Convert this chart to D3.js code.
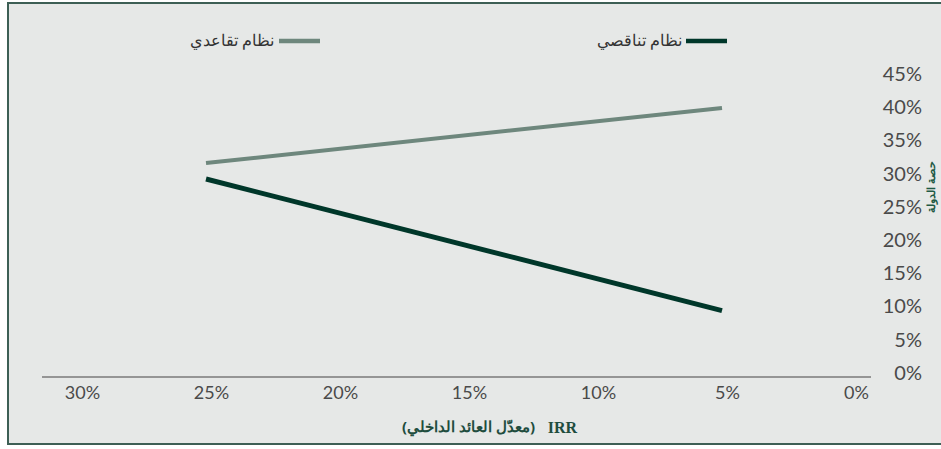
<!DOCTYPE html>
<html><head><meta charset="utf-8">
<script src="https://cdn.jsdelivr.net/npm/d3@7/dist/d3.min.js"></script>
<style>
html,body{margin:0;padding:0;background:#fff;}
svg{display:block;}
</style></head>
<body>
<script>
const xTicks = [30, 25, 20, 15, 10, 5, 0];
const yTicks = [0, 5, 10, 15, 20, 25, 30, 35, 40, 45];
const irr = [25, 5];
const seriesNames = ["نظام تناقصي", "نظام تقاعدي"];
const decreasing = [29.8, 10];
const progressive = [32.2, 40.5];
const xTitleLatin = "IRR";
const xTitleArabic = "(معدّل العائد الداخلي)";
const yTitle = "حصة الدولة";

const W = 941, H = 449;
const svg = d3.select("body").append("svg").attr("width", W).attr("height", H);

svg.append("rect").attr("x", 8).attr("y", 3).attr("width", 940).attr("height", 441)
  .attr("fill", "#e6e8e7").attr("stroke", "#3d5f55").attr("stroke-width", 2);

const x = d3.scaleLinear().domain([30, 0]).range([77, 851]);
const y = d3.scaleLinear().domain([0, 45]).range([377, 78]);

// x axis line
svg.append("line").attr("x1", 42).attr("x2", 871).attr("y1", y(0)).attr("y2", y(0))
  .attr("stroke", "#7a7a7a").attr("stroke-width", 1.5);

const xAxis = d3.axisBottom(x).tickValues(xTicks).tickFormat(d => d + "%").tickSize(0);
const gx = svg.append("g").attr("transform", `translate(0,${y(0)})`).call(xAxis);
gx.select(".domain").remove();
gx.selectAll("text").attr("dx", 5).attr("dy", 0).attr("y", 22)
  .attr("font-family", "Lato, sans-serif").attr("font-size", 18).attr("fill", "#4a4a4a");

const yAxis = d3.axisRight(y).tickValues(yTicks).tickFormat(d => d + "%").tickSize(0);
const gy = svg.append("g").attr("transform", `translate(922,0)`).call(yAxis);
gy.select(".domain").remove();
gy.selectAll("text").attr("x", 0).attr("dy", "0.32em").attr("y", -4).attr("text-anchor", "end")
  .attr("font-family", "Lato, sans-serif").attr("font-size", 20).attr("fill", "#4a4a4a");

// y title
svg.append("text").attr("transform", `translate(931,187) rotate(-90)`)
  .attr("text-anchor", "middle").attr("dy", "0.35em")
  .attr("font-family", "'Noto Sans', sans-serif").attr("font-weight", "bold").attr("font-size", 11)
  .attr("fill", "#1f5a45").attr("direction", "rtl").text(yTitle);

// x title
svg.append("text").attr("x", 577).attr("y", 427).attr("dy", "0.35em").attr("text-anchor", "end")
  .attr("font-family", "'Liberation Serif', serif").attr("font-weight", "bold").attr("font-size", 16)
  .attr("fill", "#1f4d3e").text(xTitleLatin);
svg.append("text").attr("x", 535).attr("y", 427).attr("dy", "0.35em").attr("text-anchor", "start")
  .attr("direction", "rtl")
  .attr("font-family", "'Noto Sans', sans-serif").attr("font-weight", "bold").attr("font-size", 15)
  .attr("fill", "#1f4d3e").text(xTitleArabic);

const line = d3.line().x((d, i) => x(irr[i])).y(d => y(d));
svg.append("path").datum(progressive).attr("d", line).attr("fill", "none")
  .attr("stroke", "#6e877d").attr("stroke-width", 4);
svg.append("path").datum(decreasing).attr("d", line).attr("fill", "none")
  .attr("stroke", "#00372a").attr("stroke-width", 5);

// legend
const legend = [
  {name: seriesNames[0], color: "#00372a", x1: 686, x2: 727, tx: 682},
  {name: seriesNames[1], color: "#6e877d", x1: 279, x2: 320, tx: 274}
];
legend.forEach(l => {
  svg.append("line").attr("x1", l.x1).attr("x2", l.x2).attr("y1", 41).attr("y2", 41)
    .attr("stroke", l.color).attr("stroke-width", 4.5);
  svg.append("text").attr("x", l.tx).attr("y", 41).attr("dy", "0.3em").attr("text-anchor", "end")
    .attr("font-family", "'Noto Sans', sans-serif").attr("font-size", 16).attr("fill", "#333")
    .text(l.name);
});
</script>
</body></html>
